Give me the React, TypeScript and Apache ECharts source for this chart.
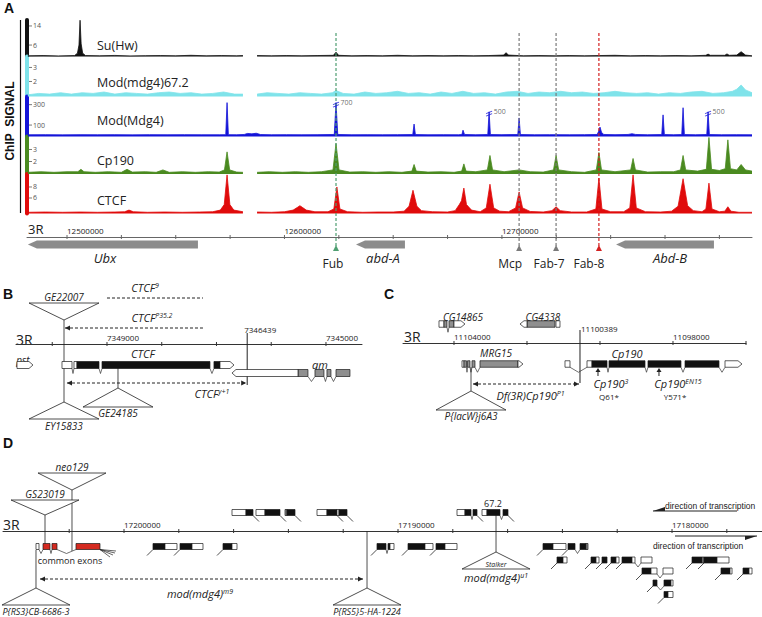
import { useEffect, useRef } from 'react';
import * as echarts from 'echarts';

// ================= Panel A data (3R position in kb, ChIP signal) =================
const SUHW = [[12482,1.5],[12489,1.6],[12496,1.45],[12503.5,1.6],[12504.8,2.6],[12505.5,6],[12506,16.4],[12506.5,6.5],[12507.2,2.6],[12508.5,1.6],[12515,1.5],[12522,1.65],[12529,1.45],[12536,1.55],[12543,1.6],[12550,1.5],[12557,1.7],[12564,1.5],[12571,1.6],[12578,1.5],[12580.9,1.6],[12584,'-'],[12587.4,1.6],[12594,1.5],[12601,1.6],[12608,1.5],[12615,1.6],[12622.5,1.7],[12623.7,3],[12624.9,1.7],[12631,1.5],[12638,1.6],[12645,1.5],[12652,1.7],[12659,1.5],[12666,1.6],[12673,1.5],[12680,1.6],[12687,1.5],[12694,1.6],[12700.8,1.8],[12701.9,2.8],[12703,1.8],[12710,1.5],[12717,1.6],[12724,1.5],[12731,1.6],[12738,1.5],[12745,1.6],[12752,1.7],[12759,1.5],[12766,1.6],[12773,1.5],[12780,1.6],[12787,1.5],[12793.8,1.7],[12794.8,2.2],[12795.8,1.7],[12802.5,1.7],[12803.5,2.3],[12804.5,1.7],[12808,1.8],[12810,3.2],[12812,1.8],[12815,1.5]];

const MOD672 = [[12482,1.05],[12487,1.15],[12492,1.1],[12497,1.2],[12502,1.1],[12507,1.2],[12512,1.15],[12517,1.25],[12522,1.1],[12527,1.2],[12532,1.15],[12537,1.1],[12542,1.2],[12547,1.25],[12552,1.15],[12557,1.2],[12562,1.1],[12567,1.15],[12572,1.25],[12577,1.1],[12580.9,1.1],[12584,'-'],[12587.4,1.1],[12592,1.2],[12597,1.15],[12602,1.1],[12607,1.2],[12612,1.15],[12617,1.1],[12622,1.2],[12623.7,1.35],[12627,1.15],[12632,1.1],[12637,1.25],[12642,1.15],[12647,1.2],[12652,1.3],[12657,1.15],[12662,1.2],[12667,1.1],[12672,1.25],[12677,1.15],[12682,1.3],[12687,1.15],[12692,1.2],[12697,1.1],[12702,1.25],[12707,1.3],[12712,1.15],[12717,1.25],[12722,1.2],[12727,1.3],[12732,1.2],[12737,1.25],[12742,1.15],[12747,1.2],[12752,1.3],[12757,1.2],[12762,1.15],[12767,1.2],[12772,1.1],[12777,1.2],[12782,1.15],[12787,1.25],[12792,1.3],[12797,1.15],[12802,1.2],[12806,1.3],[12808,1.45],[12810,1.75],[12812,1.4],[12815,1.2]];

const MODMDG4 = [[12482,5],[12490,6],[12498,4],[12506,6],[12514,5],[12522,6],[12530,4],[12538,6],[12546,5],[12554,6],[12562,5],[12570,5],[12573,6],[12573.6,320],[12574.2,6],[12578,5],[12581.5,8],[12583,18],[12585,14],[12587,20],[12589,7],[12594,5],[12601,6],[12608,5],[12615,6],[12622.9,8],[12623.7,320],[12624.5,8],[12631,5],[12638,6],[12645,5],[12652,6],[12659,7],[12659.6,110],[12660.2,7],[12666,5],[12673,6],[12680,5],[12681.6,8],[12682.1,50],[12682.8,8],[12688,5],[12693.5,7],[12694.1,230],[12694.7,7],[12700,6],[12707.3,7],[12707.9,170],[12708.5,7],[12715,5],[12722,6],[12724.5,6],[12724.9,15],[12725.3,6],[12731,5],[12738,6],[12743.8,8],[12744.5,40],[12745.1,80],[12745.8,30],[12746.8,8],[12752,6],[12758,8],[12759.8,15],[12761.5,8],[12767,5],[12773.5,7],[12774.1,200],[12774.7,7],[12779,5],[12782.7,7],[12783.3,270],[12783.9,7],[12789,5],[12794.2,7],[12794.8,230],[12795.4,7],[12801,5],[12808,6],[12815,5]];

const CP190 = [[12482,1.1],[12488,1.15],[12494,1.1],[12500,1.15],[12505,1.15],[12506.4,1.35],[12507.8,1.15],[12513,1.1],[12519,1.15],[12525,1.1],[12527.6,1.35],[12530,1.12],[12536,1.15],[12541,1.1],[12544.1,1.3],[12547,1.1],[12553,1.15],[12559,1.1],[12565,1.15],[12570,1.12],[12572.4,1.3],[12573.6,2.8],[12574.8,1.3],[12578,1.12],[12580.9,1.1],[12584,'-'],[12587.4,1.1],[12593,1.15],[12599,1.1],[12605,1.15],[12611,1.1],[12617,1.15],[12622.3,1.3],[12623.7,3.5],[12625.1,1.3],[12630,1.12],[12636,1.15],[12642,1.1],[12648,1.15],[12654,1.1],[12658.6,1.2],[12659.6,1.75],[12660.6,1.2],[12666,1.12],[12672,1.15],[12678,1.1],[12681.5,1.2],[12682.5,1.8],[12683.5,1.2],[12688,1.15],[12693.3,1.3],[12694.5,2.5],[12695.7,1.3],[12701,1.15],[12707.9,1.3],[12713,1.15],[12719,1.12],[12723.7,1.3],[12724.9,2.5],[12726.1,1.3],[12732,1.15],[12738,1.1],[12743.4,1.3],[12744.6,2.75],[12745.8,1.3],[12752,1.15],[12759.2,1.3],[12760.3,2.25],[12761.4,1.3],[12767,1.12],[12773,1.15],[12779,1.15],[12782.1,1.3],[12783.3,2.5],[12784.5,1.3],[12790,1.2],[12794,1.35],[12795.2,4.0],[12796.4,1.35],[12800,1.25],[12802.7,1.4],[12803.9,3.8],[12805.1,1.4],[12808,1.3],[12810,1.75],[12812,1.3],[12815,1.2]];

const CTCF = [[12482,3.4],[12490,3.45],[12498,3.4],[12506,3.45],[12514,3.4],[12522,3.45],[12526.5,3.5],[12528.5,3.8],[12530.5,3.5],[12537,3.4],[12545,3.45],[12553,3.4],[12561,3.45],[12567,3.5],[12570.5,3.8],[12572.3,4.8],[12573.6,10.2],[12574.9,4.8],[12576.7,3.8],[12580.9,3.5],[12584,'-'],[12587.4,3.45],[12594,3.4],[12600,3.5],[12604,3.8],[12606,4.3],[12607.1,4.6],[12608.2,4.3],[12610,3.8],[12614,3.5],[12620,3.5],[12622.7,4.0],[12624.1,8.0],[12625.5,4.0],[12629,3.5],[12636,3.4],[12643,3.45],[12650,3.45],[12655,3.6],[12657.3,4.5],[12659.1,7.4],[12660.9,4.5],[12663,3.7],[12668,3.5],[12675,3.45],[12678.5,3.7],[12680.4,4.8],[12681.4,5.5],[12682.5,7.8],[12683.7,4.8],[12686,3.8],[12690,3.5],[12692.8,4.2],[12694.5,8.5],[12696.2,4.2],[12699,3.6],[12703,3.5],[12706.3,4.2],[12707.9,7.1],[12709.5,4.2],[12713,3.55],[12719,3.45],[12723,3.7],[12724.9,4.4],[12726.8,3.7],[12732,3.45],[12739,3.45],[12743.2,4.0],[12744.6,9.6],[12746,4.0],[12750,3.5],[12756,3.5],[12758.8,4.2],[12760.3,10.2],[12761.8,4.2],[12766,3.5],[12773,3.45],[12778,3.6],[12781,4.5],[12783.3,9.5],[12785.4,4.6],[12788,3.7],[12792,3.5],[12793.8,4.0],[12795.2,8.7],[12796.6,4.0],[12800,3.5],[12802.5,3.6],[12803.9,4.4],[12805.3,3.6],[12809,3.4],[12815,3.4]];

const MDG4_BREAKS = [[12623.7, 300, '700'], [12694.1, 212, '500'], [12794.8, 212, '500']];
const A_TICKS = [12500, 12525, 12550, 12575, 12600, 12625, 12650, 12675, 12700, 12725, 12750, 12775, 12800];
const A_LABELS = [12500, 12600, 12700];
// [name, start(kb), arrow tip(kb), label centre(kb)]
const A_GENES: any[] = [['Ubx', 12560.2, 12482.0, 12517.5], ['abd-A', 12655.4, 12632.9, 12645.3], ['Abd-B', 12797.5, 12752.5, 12777.3]];
const BOUNDARIES: any[] = [['Fub', 12623.7], ['Mcp', 12707.9], ['Fab-7', 12724.9], ['Fab-8', 12744.6]];

// ================= Panel B (3R bp) =================
const B_TICKS = [7350000, 7349000, 7348000, 7347000, 7346000, 7345000];
const B_LABELS = [7349000, 7345000];
// [start, end, lane, fill]
const B_EXONS = [[7349822,7349639,0,0],[7349603,7349548,0,0],[7349548,7349146,0,1],[7349091,7347119,0,1],[7347046,7346936,0,1],[7345511,7345329,1,2],[7345201,7345037,1,2],[7344982,7344909,1,2],[7344817,7344562,1,2]];
// [start, tip, lane, fill]
const B_ARROWS = [[7350644,7350352,0,0],[7346936,7346680,0,0],[7345511,7346717,1,0]];
const B_INTRONS = [[7349639,7349603,0],[7349146,7349091,0],[7347119,7347046,0],[7345329,7345201,1],[7345037,7344982,1],[7344909,7344817,1]];

// ================= Panel C =================
const C_TICKS = [11104000, 11102000, 11100000, 11098000, 11096000];
const C_LABELS = [11104000, 11098000];
const C_EXONS = [[11104411,11104274,0,0],[11104274,11104192,0,2],[11104137,11104000,0,2],[11102000,11101233,0,2],[11101206,11101096,0,0],[11103781,11103726,1,0],[11103726,11103658,1,2],[11103630,11103562,1,2],[11103507,11103425,1,2],[11103288,11102247,1,2],[11100959,11100822,1,0],[11100356,11100219,1,0],[11100219,11099808,1,1],[11099753,11098767,1,1],[11098685,11097781,1,1],[11097671,11096740,1,1]];
const C_ARROWS = [[11104000,11103699,0,0],[11102000,11102192,0,0],[11102247,11102110,1,0],[11096575,11096110,1,0]];
const C_INTRONS = [[11104192,11104137,0],[11103658,11103630,1],[11103562,11103507,1],[11103425,11103288,1],[11100822,11100356,1],[11099808,11099753,1],[11098767,11098685,1],[11097781,11097671,1],[11096740,11096575,1]];

// ================= Panel D =================
const D_TICKS = [17202000,17200000,17198000,17196000,17194000,17192000,17190000,17188000,17186000,17184000,17182000,17180000,17178000];
const D_LABELS = [17200000, 17190000, 17180000];
const D_EXONS = [
  [17196058,17195547,0,0],[17195547,17195292,0,1],[17195183,17194854,0,0],[17194854,17194307,0,1],[17194124,17194051,0,2],[17194051,17193759,0,1],
  [17192956,17192591,0,0],[17192591,17192226,0,1],[17192226,17192153,0,0],[17192153,17191861,0,1],
  [17187847,17187555,0,0],[17187555,17187336,0,1],[17187263,17187117,0,1],[17186934,17186752,0,0],[17186752,17186278,0,1],[17186168,17185986,0,1],
  [17203212,17203102,1,0],[17202956,17202701,1,3],[17202628,17202445,1,3],[17201752,17200876,1,3],
  [17198942,17198504,1,1],[17198504,17198066,1,0],[17197956,17197518,1,1],[17197518,17197117,1,0],[17196387,17196058,1,1],[17196058,17195876,1,0],
  [17190767,17190438,1,1],[17190365,17190292,1,1],[17190292,17190146,1,0],[17189635,17189015,1,1],[17189015,17188723,1,0],[17188613,17188285,1,1],[17188285,17187847,1,0],
  [17184708,17184343,1,1],[17184343,17183869,1,0],[17183796,17183540,1,1],[17183358,17183139,1,1],[17183139,17183066,1,2],
  [17184197,17183978,2,1],[17183978,17183832,2,0],[17182956,17182774,2,1],[17182774,17182664,2,0],[17182555,17182372,2,1],[17182226,17182044,2,1],[17182044,17181934,2,0],
  [17181825,17181460,2,1],[17181460,17181351,2,0],[17181132,17180730,2,0],[17179270,17178905,2,1],[17178905,17178832,2,2],[17178832,17178358,2,1],[17178358,17177920,2,0],
  [17181095,17180767,3,1],[17180767,17180548,3,0],[17180329,17179964,3,0],[17178212,17177883,3,1],[17177883,17177810,3,0],[17177409,17177190,3,1],[17177190,17177080,3,0],
  [17180694,17180548,4,1],[17180292,17180037,4,1],[17180037,17179964,4,0],
  [17180292,17180146,5,1],[17180146,17179964,5,0],
];
const D_INTRONS = [[17187336,17187263,0],[17186278,17186168,0],[17203102,17202956,1],[17202701,17202628,1],[17202445,17201752,1],[17190438,17190365,1],[17183540,17183358,1],[17181351,17181132,2],[17180548,17180329,3],[17180548,17180292,4]];
// [position, lane, direction]
const D_TAILS = [
  [17195292,0,1],[17194307,0,1],[17193759,0,1],[17192226,0,1],[17191861,0,1],[17187117,0,1],[17185986,0,1],
  [17198942,1,-1],[17197956,1,-1],[17196387,1,-1],[17190767,1,-1],[17189635,1,-1],[17188613,1,-1],[17184708,1,-1],[17183796,1,-1],
  [17184197,2,-1],[17182956,2,-1],[17182555,2,-1],[17182226,2,-1],[17181825,2,-1],[17179270,2,-1],[17178832,2,-1],
  [17181095,3,-1],[17178212,3,-1],[17177409,3,-1],[17180694,4,-1],[17180292,5,-1],
];

// ================= layout / style =================
const FONT = '"Open Sans", "Noto Sans", Arial, sans-serif';
const NARROW = '"Liberation Sans", Arial, sans-serif';
const BOLD = '"Liberation Sans", Arial, sans-serif';
const FILLS = ['#ffffff', '#111111', '#8f8f8f', '#d42a20'];
const B_LANES = [-21, -29];
const C_LANES = [19, -21];
const D_LANES = [18.5, -15.5, -29, -40, -52, -63.5];
const BOUND_COLORS = ['#4f9f72', '#7a7a7a', '#7a7a7a', '#d42020'];
const BOUND_DX = [-3, -9, -7, -10];

const B_ANN: any[] = [
  { k: 'ins', x: 7349785, apex: 24, base: 41, line: -58, label: 'GE22007', ly: 47 },
  { k: 'ins', x: 7349785, apex: -58, base: -75, label: 'EY15833', ly: -82 },
  { k: 'ins', x: 7348799, apex: -44, base: -63, line: -24, label: 'GE24185', ly: -69 },
  { k: 'dash', x1: 7349000, x2: 7347247, y: 46, label: 'CTCF{s|9}', lx: 7348306, ly: 57 },
  { k: 'dash', x1: 7349767, x2: 7347247, y: 16, h1: true, label: 'CTCF{s|P35.2}', lx: 7348178, ly: 27 },
  { k: 'vline', x: 7346439, y1: 11, y2: -41, label: '7346439', ly: 15, ldx: -3 },
  { k: 'dash', x1: 7349731, x2: 7346457, y: -39, h1: true, h2: true, label: 'CTCF{s|y+1}', lx: 7347082, ly: -49 },
  { k: 'text', x: 7350535, y: -16, t: 'pst', size: 10, italic: true },
  { k: 'text', x: 7348343, y: -9, t: 'CTCF', size: 11, italic: true },
  { k: 'text', x: 7345110, y: -20, t: 'qm', size: 11, italic: true },
];
const C_ANN: any[] = [
  { k: 'vline', x: 11100548, y1: 13, y2: -40, label: '11100389', ly: 15, ldx: 1 },
  { k: 'ins', x: 11103534, apex: -48, base: -67, line: -24, label: 'P{lacW}j6A3', ly: -73 },
  { k: 'dash', x1: 11103479, x2: 11100575, y: -41, h1: true, h2: true, label: 'Df(3R)Cp190{s|P1}', lx: 11101904, ly: -52 },
  { k: 'up', x: 11100055, y1: -33, y2: -25 },
  { k: 'up', x: 11098384, y1: -33, y2: -25 },
  { k: 'text', x: 11099698, y: -40, t: 'Cp190{s|3}', size: 11, italic: true },
  { k: 'text', x: 11099753, y: -53, t: 'Q61*', size: 8 },
  { k: 'text', x: 11097863, y: -40, t: 'Cp190{s|EN15}', size: 11, italic: true },
  { k: 'text', x: 11097945, y: -53, t: 'Y571*', size: 8 },
  { k: 'text', x: 11103753, y: 26, t: 'CG14865', size: 10, italic: true },
  { k: 'text', x: 11101562, y: 26, t: 'CG4338', size: 10, italic: true },
  { k: 'text', x: 11102849, y: -10, t: 'MRG15', size: 10, italic: true },
  { k: 'text', x: 11099260, y: -10, t: 'Cp190', size: 11, italic: true },
];
const D_ANN: any[] = [
  { k: 'ins', x: 17201898, apex: 41, base: 58, line: -20, label: 'neo129', ly: 64, hw: 34 },
  { k: 'ins', x: 17202883, apex: 16, base: 31, line: -14, label: 'GS23019', ly: 37, hw: 34 },
  { k: 'ins', x: 17203212, apex: -57, base: -74, line: -19, label: 'P{RS3}CB-6686-3', ly: -80, hw: 34, lsize: 9 },
  { k: 'ins', x: 17191131, apex: -57, base: -74, line: 0, label: 'P{RS5}5-HA-1224', ly: -80, hw: 34, lsize: 9 },
  { k: 'ins', x: 17186423, apex: -21, base: -38, line: 16, label: 'Stalker', ly: -33, hw: 34, lsize: 7 },
  { k: 'text', x: 17186423, y: -46, t: 'mod(mdg4){s|u1}', size: 11, italic: true },
  { k: 'dash', x1: 17203066, x2: 17191277, y: -48, h1: true, h2: true, label: 'mod(mdg4){s|m9}', lx: 17197226, ly: -62 },
  { k: 'text', x: 17186533, y: 28, t: '67.2', size: 9 },
  { k: 'text', x: 17201971, y: -29, t: 'common exons', size: 9 },
  { k: 'fan', x: 17200876, y: -18.5 },
  { k: 'dir', x1: 17180694, x2: 17177628, y: 20, head: 1, side: -1, label: 'direction of transcription', lx: 17180256, ly: 25 },
  { k: 'dir', x1: 17179891, x2: 17176898, y: -5, head: 2, side: 1, label: 'direction of transcription', lx: 17180694, ly: -15 },
];

const TRACKS = [
  { name: 'Su(Hw)', data: SUHW, color: '#111111', top: 20, height: 36.5, min: 1.2, max: 16.5, ticks: [6, 14], ly: 45 },
  { name: 'Mod(mdg4)67.2', data: MOD672, color: '#7fe3ea', top: 56.5, height: 40, min: 0.93, max: 3.78, ticks: [2, 3], ly: 82 },
  { name: 'Mod(Mdg4)', data: MODMDG4, color: '#1414d8', top: 96.5, height: 40, min: -12, max: 380, ticks: [100, 300], ly: 120 },
  { name: 'Cp190', data: CP190, color: '#4a8a20', top: 136.5, height: 37.5, min: 0.96, max: 4.08, ticks: [2, 3], ly: 160 },
  { name: 'CTCF', data: CTCF, color: '#e00b0b', top: 174, height: 39.5, min: 3.18, max: 10.36, ticks: [6, 8], ly: 200 },
];

function rich(size: number, family = FONT) {
  return {
    s: { fontSize: Math.max(6, Math.round(size * 0.62)), fontStyle: 'italic', fontFamily: family, verticalAlign: 'top', fill: '#222' },
  };
}

const base = (gi: number) => ({ type: 'custom', coordinateSystem: 'cartesian2d', xAxisIndex: gi, yAxisIndex: gi, silent: true, clip: false, z: 4 });

function boxSeries(gi: number, items: any[], lanes: number[], h: number) {
  return {
    ...base(gi),
    data: items.map((d) => [d[0], 0]),
    renderItem: (p: any, api: any) => {
      const d = items[p.dataIndex];
      const cy = lanes[d[2]];
      const a = api.coord([api.value(0), cy]);
      const b = api.coord([d[1], cy]);
      return {
        type: 'rect',
        shape: { x: Math.min(a[0], b[0]), y: a[1] - h / 2, width: Math.abs(b[0] - a[0]), height: h },
        style: { fill: FILLS[d[3]], stroke: '#1a1a1a', lineWidth: 0.7 },
      };
    },
  };
}

function arrowSeries(gi: number, items: any[], lanes: number[], h: number, opt: any = {}) {
  return {
    ...base(gi),
    data: items.map((d) => [d[0], 0]),
    renderItem: (p: any, api: any) => {
      const d = items[p.dataIndex];
      const cy = lanes[d[2]];
      const a = api.coord([api.value(0), cy]);
      const b = api.coord([d[1], cy]);
      const dir = Math.sign(b[0] - a[0]) || 1;
      const hl = Math.min(opt.hl ?? 4, Math.abs(b[0] - a[0]));
      const t = a[1] - h / 2, bt = a[1] + h / 2;
      return {
        type: 'polygon',
        shape: { points: [[a[0], t], [b[0] - dir * hl, t], [b[0], a[1]], [b[0] - dir * hl, bt], [a[0], bt]] },
        style: { fill: opt.fill ?? FILLS[d[3]], stroke: opt.stroke === undefined ? '#1a1a1a' : opt.stroke, lineWidth: 0.7 },
      };
    },
  };
}

function intronSeries(gi: number, items: any[], lanes: number[], h: number, dip: number) {
  return {
    ...base(gi),
    data: items.map((d) => [d[0], 0]),
    renderItem: (p: any, api: any) => {
      const d = items[p.dataIndex];
      const cy = lanes[d[2]];
      const a = api.coord([api.value(0), cy]);
      const b = api.coord([d[1], cy]);
      const yb = a[1] + h / 2;
      return {
        type: 'polyline',
        shape: { points: [[a[0], yb], [(a[0] + b[0]) / 2, yb + dip], [b[0], yb]] },
        style: { stroke: '#333', lineWidth: 0.7, fill: 'none' },
      };
    },
  };
}

function tailSeries(gi: number, items: any[], lanes: number[], h: number) {
  return {
    ...base(gi),
    data: items.map((d) => [d[0], 0]),
    renderItem: (p: any, api: any) => {
      const d = items[p.dataIndex];
      const a = api.coord([api.value(0), lanes[d[1]]]);
      const yb = a[1] + h / 2;
      return { type: 'line', shape: { x1: a[0], y1: yb, x2: a[0] + d[2] * 6, y2: yb + 6 }, style: { stroke: '#222', lineWidth: 0.8 } };
    },
  };
}

// axis tick marks drawn through the axis scale (crossing the axis line)
function tickSeries(gi: number, ticks: number[], color: string, len = 2) {
  return {
    ...base(gi),
    z: 5,
    data: ticks.map((v) => [v, 0]),
    renderItem: (p: any, api: any) => {
      const c = api.coord([api.value(0), 0]);
      return { type: 'line', shape: { x1: c[0], y1: c[1] - len, x2: c[0], y2: c[1] + len }, style: { stroke: color, lineWidth: 1 } };
    },
  };
}

function annSeries(gi: number, anns: any[]) {
  return {
    ...base(gi),
    z: 3,
    data: anns.map((a) => [a.x ?? a.x1, 0]),
    renderItem: (p: any, api: any) => {
      const a = anns[p.dataIndex];
      const P = (x: number, y: number) => api.coord([x, y]);
      const ch: any[] = [];
      const ln = (x1: number, y1: number, x2: number, y2: number, dash?: number[], w = 0.8) =>
        ch.push({ type: 'line', shape: { x1, y1, x2, y2 }, style: { stroke: '#222', lineWidth: w, lineDash: dash || null } });
      const tri = (pts: number[][]) => ch.push({ type: 'polygon', shape: { points: pts }, style: { fill: '#222' } });
      const txt = (t: string, x: number, y: number, size: number, italic: boolean, align = 'center', family = FONT) =>
        ch.push({
          type: 'text',
          style: { text: t, x, y, fontSize: size, fontFamily: family, fontStyle: italic ? 'italic' : 'normal', fill: '#222', align, verticalAlign: 'middle', rich: rich(size, family) },
        });
      if (a.k === 'ins') {
        const ap = P(a.x, a.apex), bp = P(a.x, a.base);
        const hw = a.hw ?? 35;
        if (a.line !== undefined) { const l = P(a.x, a.line); ln(ap[0], ap[1], l[0], l[1]); }
        ch.push({ type: 'polygon', shape: { points: [[ap[0], ap[1]], [ap[0] - hw, bp[1]], [ap[0] + hw, bp[1]]] }, style: { fill: '#fff', stroke: '#222', lineWidth: 0.8 } });
        const lp = P(a.x, a.ly);
        txt(a.label, lp[0], lp[1], a.lsize ?? 10, true);
      } else if (a.k === 'dash') {
        const p1 = P(a.x1, a.y), p2 = P(a.x2, a.y);
        ln(p1[0], p1[1], p2[0], p2[1], [3, 2], 1);
        const dir = Math.sign(p1[0] - p2[0]);
        if (a.h1) tri([[p1[0], p1[1]], [p1[0] - dir * 5, p1[1] - 2.5], [p1[0] - dir * 5, p1[1] + 2.5]]);
        if (a.h2) tri([[p2[0], p2[1]], [p2[0] + dir * 5, p2[1] - 2.5], [p2[0] + dir * 5, p2[1] + 2.5]]);
        const lp = P(a.lx, a.ly);
        txt(a.label, lp[0], lp[1], 11, true);
      } else if (a.k === 'vline') {
        const p1 = P(a.x, a.y1), p2 = P(a.x, a.y2);
        ln(p1[0], p1[1], p2[0], p2[1], undefined, 1);
        const lp = P(a.x, a.ly);
        txt(a.label, lp[0] + (a.ldx ?? 0), lp[1], 8, false, 'left');
      } else if (a.k === 'text') {
        const lp = P(a.x, a.y);
        txt(a.t, lp[0], lp[1], a.size, !!a.italic);
      } else if (a.k === 'up') {
        const p1 = P(a.x, a.y1), p2 = P(a.x, a.y2);
        ln(p1[0], p1[1], p2[0], p2[1] + 3, undefined, 1);
        tri([[p2[0], p2[1]], [p2[0] - 2.5, p2[1] + 4], [p2[0] + 2.5, p2[1] + 4]]);
      } else if (a.k === 'fan') {
        const p0 = P(a.x, a.y);
        [[16, 1.5], [15, 3.5], [13, 5.5], [10, 7.5]].forEach(([dx, dy]) => ln(p0[0], p0[1], p0[0] + dx, p0[1] + dy, undefined, 0.7));
      } else if (a.k === 'dir') {
        const p1 = P(a.x1, a.y), p2 = P(a.x2, a.y);
        ln(p1[0], p1[1], p2[0], p2[1], undefined, 1);
        const hp = a.head === 1 ? p1 : p2;
        const s = a.head === 1 ? 1 : -1;
        tri([[hp[0], hp[1]], [hp[0] + s * 12, hp[1] + a.side * 4], [hp[0] + s * 12, hp[1]]]);
        const lp = P(a.lx, a.ly);
        txt(a.label, lp[0], lp[1], 8.5, false, 'left', NARROW);
      }
      return { type: 'group', children: ch };
    },
  };
}

function genomicAxis(gi: number, min: number, max: number, labels: number[], inverse: boolean, fmt: (v: number) => string, color = '#333') {
  return {
    type: 'value', gridIndex: gi, min, max, inverse, position: 'top',
    axisLine: { show: true, onZero: false, lineStyle: { color, width: 1 } },
    axisTick: { show: false },
    axisLabel: { show: true, customValues: labels, formatter: fmt, align: 'left', margin: 3, fontSize: 8, fontFamily: FONT, color: '#222' },
    splitLine: { show: false },
  };
}

export default function App() {
  const ref = useRef<HTMLDivElement>(null);
  useEffect(() => {
    if (!ref.current) return;
    const chart = echarts.init(ref.current, undefined, { renderer: 'svg' });
    const AMIN = 12481.6, AMAX = 12815.0;
    const grids: any[] = [];
    const xAxes: any[] = [];
    const yAxes: any[] = [];
    const series: any[] = [];

    TRACKS.forEach((t, i) => {
      grids.push({ left: 27, right: 10, top: t.top, height: t.height });
      xAxes.push({ type: 'value', gridIndex: i, min: AMIN, max: AMAX, show: false });
      yAxes.push({
        type: 'value', gridIndex: i, min: t.min, max: t.max,
        axisLine: { show: true, onZero: false, lineStyle: { color: t.color, width: 4 } },
        axisTick: { show: false },
        axisLabel: { show: true, inside: true, customValues: t.ticks, margin: 6, fontSize: 7, fontFamily: FONT, color: '#555' },
        splitLine: { show: false },
      });
      series.push({
        type: 'line', xAxisIndex: i, yAxisIndex: i, data: t.data, showSymbol: false, symbol: 'none',
        lineStyle: { color: t.color, width: 0.8 }, areaStyle: { color: t.color, opacity: 1, origin: 'start' },
        connectNulls: false, silent: true, z: 2,
      });
      // small y tick marks next to the coloured bar
      series.push({
        ...base(i),
        z: 5,
        data: t.ticks.map((v) => [AMIN, v]),
        renderItem: (p: any, api: any) => {
          const c = api.coord([api.value(0), api.value(1)]);
          return { type: 'line', shape: { x1: c[0] + 2, y1: c[1], x2: c[0] + 5, y2: c[1] }, style: { stroke: '#555', lineWidth: 0.8 } };
        },
      });
    });
    // break markers on Mod(Mdg4)
    series.push({
      type: 'scatter', xAxisIndex: 2, yAxisIndex: 2, data: MDG4_BREAKS, symbol: 'path://M0,4L8,0M0,8L8,4', symbolSize: [6, 5],
      itemStyle: { color: 'transparent', borderColor: '#1414d8', borderWidth: 1 }, silent: true, z: 6,
      label: { show: true, position: 'right', distance: 1, offset: [0, -2], formatter: (p: any) => p.value[2], fontSize: 7, fontFamily: FONT, color: '#444' },
    });

    // grid 5: A genomic axis with gene arrows
    grids.push({ left: 27, right: 10, top: 237, height: 40 });
    xAxes.push(genomicAxis(5, AMIN, AMAX, A_LABELS, false, (v: number) => String(Math.round(v * 1000)), '#666'));
    yAxes.push({ type: 'value', gridIndex: 5, min: -40, max: 0, show: false });
    series.push(tickSeries(5, A_TICKS, '#666'));
    const aGeneItems = A_GENES.map((g) => [g[1], g[2], 0, 2]);
    series.push(arrowSeries(5, aGeneItems, [-7.5], 8, { hl: 9, fill: '#8c8c8c', stroke: null }));
    series.push(annSeries(5, A_GENES.map((g) => ({ k: 'text', x: g[3], y: -21, t: g[0], size: 13, italic: true }))));

    // grid 6: boundary overlay
    grids.push({ left: 27, right: 10, top: 33, height: 218 });
    xAxes.push({ type: 'value', gridIndex: 6, min: AMIN, max: AMAX, show: false });
    yAxes.push({ type: 'value', gridIndex: 6, min: 0, max: 1, show: false });
    series.push({
      ...base(6),
      z: 6,
      data: BOUNDARIES.map((b) => [b[1], 0]),
      renderItem: (p: any, api: any) => {
        const b = BOUNDARIES[p.dataIndex];
        const col = BOUND_COLORS[p.dataIndex];
        const top = api.coord([api.value(0), 1]);
        const bot = api.coord([api.value(0), 0]);
        return {
          type: 'group',
          children: [
            { type: 'line', shape: { x1: top[0], y1: top[1], x2: top[0], y2: bot[1] - 5 }, style: { stroke: col, lineWidth: 1.2, lineDash: [3, 2] } },
            { type: 'polygon', shape: { points: [[bot[0] - 3, bot[1]], [bot[0] + 3, bot[1]], [bot[0], bot[1] - 6]] }, style: { fill: col } },
            { type: 'text', style: { text: b[0], x: bot[0] + BOUND_DX[p.dataIndex], y: bot[1] + 12, fontSize: 12, fontFamily: FONT, fill: '#222', align: 'center', verticalAlign: 'middle' } },
          ],
        };
      },
    });

    // grid 7: panel B (grid top = axis line)
    grids.push({ left: 16, right: 400, top: 344, height: 86 });
    xAxes.push(genomicAxis(7, 7344342, 7350662, B_LABELS, true, (v: number) => String(v)));
    yAxes.push({ type: 'value', gridIndex: 7, min: -86, max: 0, show: false });
    series.push(tickSeries(7, B_TICKS, '#333'));
    series.push(annSeries(7, B_ANN));
    series.push(intronSeries(7, B_INTRONS, B_LANES, 7, 5));
    series.push(boxSeries(7, B_EXONS, B_LANES, 7));
    series.push(arrowSeries(7, B_ARROWS, B_LANES, 7));

    // grid 8: panel C
    grids.push({ left: 403, right: 16, top: 343, height: 87 });
    xAxes.push(genomicAxis(8, 11096000, 11105397, C_LABELS, true, (v: number) => String(v)));
    yAxes.push({ type: 'value', gridIndex: 8, min: -87, max: 0, show: false });
    series.push(tickSeries(8, C_TICKS, '#333'));
    series.push(annSeries(8, C_ANN));
    series.push(intronSeries(8, C_INTRONS, C_LANES, 6.5, 5));
    series.push(boxSeries(8, C_EXONS, C_LANES, 6.5));
    series.push(arrowSeries(8, C_ARROWS, C_LANES, 6.5));

    // grid 9: panel D
    grids.push({ left: 3, right: 0, top: 531, height: 86 });
    xAxes.push(genomicAxis(9, 17176716, 17204416, D_LABELS, true, (v: number) => String(v)));
    yAxes.push({ type: 'value', gridIndex: 9, min: -86, max: 0, show: false });
    series.push(tickSeries(9, D_TICKS, '#333'));
    series.push(annSeries(9, D_ANN));
    series.push(intronSeries(9, D_INTRONS, D_LANES, 6, 4));
    series.push(tailSeries(9, D_TAILS, D_LANES, 6));
    series.push(boxSeries(9, D_EXONS, D_LANES, 6));

    const graphic: any[] = [
      { type: 'text', left: 4, top: 1, style: { text: 'A', font: `bold 14px ${BOLD}`, fill: '#111' } },
      { type: 'text', left: 3, top: 287, style: { text: 'B', font: `bold 14px ${BOLD}`, fill: '#111' } },
      { type: 'text', left: 384, top: 287, style: { text: 'C', font: `bold 14px ${BOLD}`, fill: '#111' } },
      { type: 'text', left: 3, top: 436, style: { text: 'D', font: `bold 14px ${BOLD}`, fill: '#111' } },
      { type: 'text', x: 10, y: 121, rotation: Math.PI / 2, style: { text: 'ChIP  SIGNAL', font: `bold 12px ${BOLD}`, fill: '#111', align: 'center', verticalAlign: 'middle' } },
      { type: 'line', shape: { x1: 20.5, y1: 20, x2: 20.5, y2: 213 }, style: { stroke: '#111', lineWidth: 1.2 } },
      { type: 'text', x: 28, y: 229, style: { text: '3R', font: `13px ${FONT}`, fill: '#222', verticalAlign: 'middle' } },
      { type: 'text', x: 16, y: 339, style: { text: '3R', font: `14px ${FONT}`, fill: '#222', verticalAlign: 'middle' } },
      { type: 'text', x: 404, y: 336, style: { text: '3R', font: `14px ${FONT}`, fill: '#222', verticalAlign: 'middle' } },
      { type: 'text', x: 3, y: 524, style: { text: '3R', font: `14px ${FONT}`, fill: '#222', verticalAlign: 'middle' } },
      ...TRACKS.map((t) => ({ type: 'text', x: 97, y: t.ly, style: { text: t.name, font: `12.5px ${FONT}`, fill: '#222', verticalAlign: 'middle' } })),
    ];

    chart.setOption({
      animation: false,
      backgroundColor: '#ffffff',
      grid: grids,
      xAxis: xAxes,
      yAxis: yAxes,
      series,
      graphic,
    });
    return () => chart.dispose();
  }, []);
  return <div ref={ref} style={{ position: 'fixed', left: 0, top: 0, width: 762, height: 617, background: '#fff' }} />;
}
